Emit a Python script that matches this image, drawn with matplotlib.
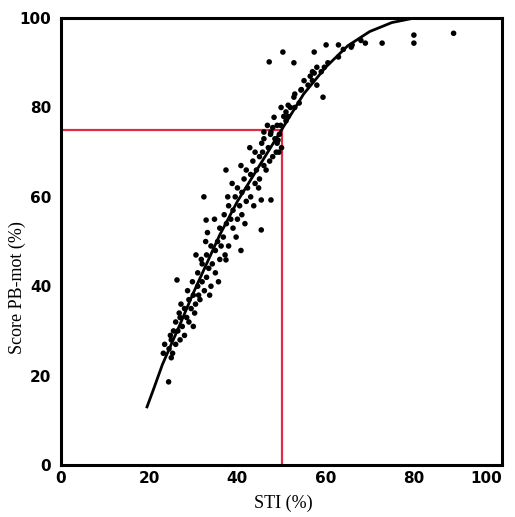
import matplotlib
matplotlib.use('Agg')
import matplotlib.pyplot as plt
import numpy as np

sti = [24.4, 24.5, 25.0, 25.0, 25.5, 26.0, 26.0, 25.3, 24.8, 23.5, 23.2,
       26.5, 27.0, 27.0, 27.5, 28.0, 28.0, 27.2, 28.5, 26.8, 26.3,
       29.0, 29.0, 29.5, 30.0, 30.0, 28.7, 29.8, 30.3, 30.5, 30.6,
       31.0, 31.0, 31.5, 32.0, 32.0, 31.2, 32.5, 31.8, 32.4, 32.9,
       33.0, 33.0, 33.5, 34.0, 34.0, 32.8, 33.7, 34.3, 33.2,
       35.0, 35.0, 35.5, 36.0, 36.0, 34.8, 35.7, 36.3, 37.4, 37.4,
       36.8, 37.0, 37.5, 38.0, 38.0, 37.2, 38.5, 37.8,
       39.0, 39.0, 39.5, 40.0, 40.0, 38.8, 39.7, 40.5, 40.8,
       41.0, 41.0, 41.5, 42.0, 42.0, 40.8, 41.7, 42.3,
       43.0, 43.0, 43.5, 44.0, 44.0, 42.8, 43.7, 44.3,
       45.0, 45.0, 45.5, 46.0, 46.0, 44.8, 45.7, 45.4, 45.4, 47.6,
       46.5, 47.0, 47.5, 48.0, 48.0, 46.8, 47.3, 46.0, 47.6,
       49.0, 49.0, 49.5, 50.0, 48.5, 49.8, 49.4, 49.2, 48.8,
       48.3, 49.9, 51.5, 52.8, 54.4, 55.1, 57.4, 59.7, 59.4, 62.9, 65.8,
       51.0, 51.0, 51.5, 52.0, 50.5, 53.0, 53.0, 54.0, 54.5, 56.0, 56.5,
       57.0, 58.0, 58.0, 59.0, 60.5, 64.0, 66.0, 68.0,
       47.2, 50.3, 52.8, 57.4, 60.1, 62.9, 69.0, 72.8, 80.0, 80.0, 89.0, 57.0]
score = [18.6, 26.0, 28.0, 24.0, 30.0, 27.0, 32.0, 25.0, 29.0, 27.0, 25.0,
         30.0, 28.0, 33.0, 31.0, 35.0, 29.0, 36.0, 33.0, 34.0, 41.4,
         32.0, 37.0, 35.0, 31.0, 38.0, 39.0, 41.0, 34.0, 36.0, 47.0,
         40.0, 43.0, 37.0, 41.0, 45.0, 38.0, 39.0, 46.0, 60.0, 54.8,
         42.0, 47.0, 44.0, 40.0, 49.0, 50.0, 38.0, 45.0, 52.0,
         43.0, 48.0, 50.0, 46.0, 53.0, 55.0, 41.0, 49.0, 66.0, 45.9,
         51.0, 56.0, 54.0, 49.0, 58.0, 47.0, 55.0, 60.0,
         53.0, 57.0, 60.0, 55.0, 62.0, 63.0, 51.0, 58.0, 48.0,
         56.0, 61.0, 64.0, 59.0, 66.0, 67.0, 54.0, 62.0,
         60.0, 65.0, 68.0, 63.0, 70.0, 71.0, 58.0, 66.0,
         64.0, 69.0, 72.0, 67.0, 73.0, 62.0, 70.0, 59.3, 52.6, 59.3,
         66.0, 71.0, 74.0, 69.0, 75.5, 76.0, 68.0, 74.5, 74.5,
         72.0, 76.0, 74.0, 71.0, 73.0, 76.0, 70.0, 72.7, 70.0,
         77.8, 80.0, 80.5, 82.3, 83.9, 86.0, 87.7, 89.0, 82.3, 91.3, 93.5,
         77.0, 79.0, 78.0, 80.0, 78.0, 80.0, 83.0, 81.0, 84.0, 85.0, 87.0,
         86.0, 85.0, 89.0, 88.0, 90.0, 93.0, 94.0, 95.0,
         90.2, 92.4, 90.0, 92.4, 94.0, 94.0, 94.4, 94.4, 96.2, 94.4, 96.6, 88.0]

# fitted curve
curve_x = [19.5, 21, 23, 25, 27, 30, 33, 36, 40, 45, 50, 55, 60, 65, 70, 75, 80, 82]
curve_y = [13, 17, 22.5, 27, 31.5, 38.5, 45, 51.5, 59, 67, 75, 83, 89, 93.8, 97, 99, 100, 100]

ref_sti = 50
ref_score = 75

fig = plt.figure(figsize=(5.15, 5.17), dpi=100)
ax = fig.add_axes([0.1184, 0.1006, 0.8566, 0.8644])

ax.plot([0, ref_sti], [ref_score, ref_score], color='#dc2f45', lw=1.6, zorder=1)
ax.plot([ref_sti, ref_sti], [0, ref_score], color='#dc2f45', lw=1.6, zorder=1)

ax.plot(curve_x, curve_y, color='black', lw=2.0, zorder=2)
ax.scatter(sti, score, s=16, color='black', edgecolors='none', zorder=3)

ax.set_xlim(0, 100)
ax.set_ylim(0, 100)
ax.set_xticks([0, 20, 40, 60, 80, 100])
ax.set_yticks([0, 20, 40, 60, 80, 100])
ax.tick_params(length=0, labelsize=11)
ax.tick_params(axis='y', pad=7)
ax.tick_params(axis='x', pad=4)
for lab in ax.get_xticklabels() + ax.get_yticklabels():
    lab.set_fontweight('bold')
ax.get_xticklabels()[-1].set_horizontalalignment('right')
ax.get_xticklabels()[-1].set_x(101.5)
for sp in ax.spines.values():
    sp.set_linewidth(2.2)

ax.set_xlabel('STI (%)', family='Liberation Serif', fontsize=13)
ax.set_ylabel('Score PB-mot (%)', family='Liberation Serif', fontsize=13)
ax.xaxis.set_label_coords(0.503, -0.066)
ax.yaxis.set_label_coords(-0.08, 0.396)

fig.savefig('out.png', dpi=100)
